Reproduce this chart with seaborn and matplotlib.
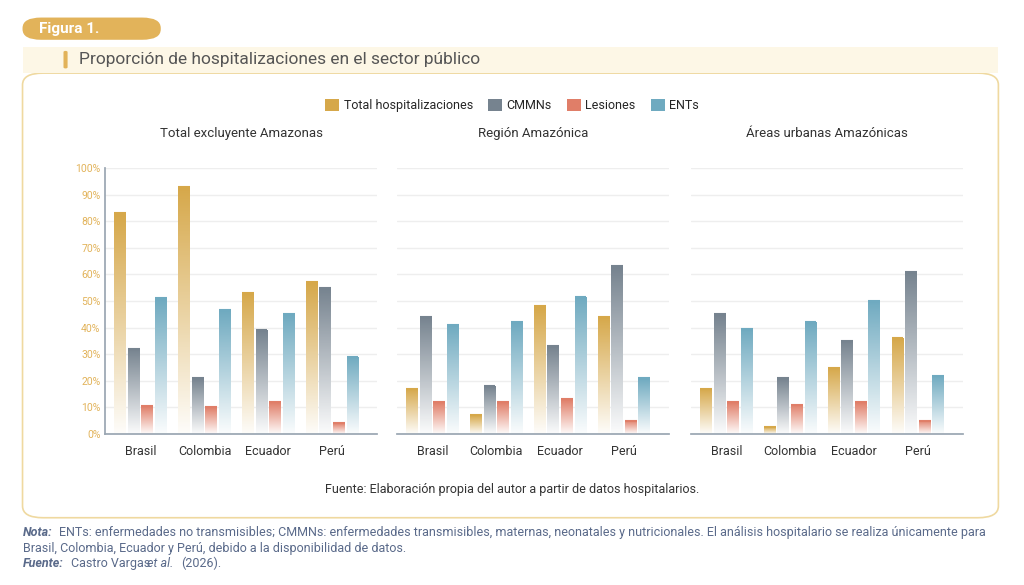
import numpy as np
import pandas as pd
import matplotlib
matplotlib.use("Agg")
import matplotlib.pyplot as plt
import seaborn as sns
from matplotlib.colors import LinearSegmentedColormap
from matplotlib.patches import FancyBboxPatch, Patch

paises = ["Brasil", "Colombia", "Ecuador", "Perú"]
series = ["Total hospitalizaciones", "CMMNs", "Lesiones", "ENTs"]
paneles = ["Total excluyente Amazonas", "Región Amazónica", "Áreas urbanas Amazónicas"]

total = [[83, 93, 53, 57], [17, 7, 48, 44], [17, 2.5, 25, 36]]
cmmn = [[32, 21, 39, 55], [44, 18, 33, 63], [45, 21, 35, 61]]
lesiones = [[10.5, 10, 12, 4], [12, 12, 13, 5], [12, 11, 12, 5]]
ents = [[51, 46.5, 45, 29], [41, 42, 51.5, 21], [39.5, 42, 50, 22]]

colores = ["#D6A84A", "#76838F", "#E07E68", "#6FAAC0"]

sns.set_theme(style="white")
plt.rcParams["font.family"] = ["Roboto", "DejaVu Sans"]

fig = plt.figure(figsize=(10.24, 5.85), dpi=100)

# marco y encabezados
fig.patches.append(FancyBboxPatch((0.022, 0.115), 0.953, 0.76, boxstyle="round,pad=0,rounding_size=0.02",
                                  transform=fig.transFigure, fc="white", ec="#EFD9A0", lw=1.2, zorder=0))
fig.patches.append(FancyBboxPatch((0.022, 0.875), 0.953, 0.045, boxstyle="square,pad=0",
                                  transform=fig.transFigure, fc="#FDF7E6", ec="none", zorder=0))
fig.patches.append(FancyBboxPatch((0.022, 0.932), 0.135, 0.038, boxstyle="round,pad=0,rounding_size=0.018",
                                  transform=fig.transFigure, fc="#E2B35A", ec="none", zorder=0))
fig.text(0.038, 0.951, "Figura 1.", color="white", fontsize=11, fontweight="bold", va="center")
fig.patches.append(FancyBboxPatch((0.062, 0.883), 0.004, 0.03, boxstyle="round,pad=0,rounding_size=0.002",
                                  transform=fig.transFigure, fc="#E2B35A", ec="none", zorder=0))
fig.text(0.077, 0.898, "Proporción de hospitalizaciones en el sector público", color="#555555",
         fontsize=12.5, va="center")

filas = []
for p in range(3):
    for i, pais in enumerate(paises):
        for s, vals in zip(series, [total, cmmn, lesiones, ents]):
            filas.append({"panel": paneles[p], "pais": pais, "serie": s, "valor": vals[p][i]})
df = pd.DataFrame(filas)

lefts = [0.103, 0.388, 0.675]
for p, nombre in enumerate(paneles):
    ax = fig.add_axes([lefts[p], 0.258, 0.265, 0.455])
    ax.set_zorder(5)
    ax.patch.set_alpha(0)
    sub = df[df.panel == nombre]
    sns.barplot(data=sub, x="pais", y="valor", hue="serie", hue_order=series, palette=colores,
                width=0.85, gap=0.12, legend=False, ax=ax)
    ax.set_ylim(0, 100)
    ax.set_xlim(-0.55, 3.7)
    for k, cont in enumerate(ax.containers):
        cmap = LinearSegmentedColormap.from_list("g", ["white", colores[k]])
        for bar in cont:
            x0, w, h = bar.get_x(), bar.get_width(), bar.get_height()
            bar.set_facecolor("none")
            bar.set_edgecolor("none")
            grad = np.linspace(1, 0.03, 100).reshape(-1, 1)
            im = ax.imshow(grad, cmap=cmap, vmin=0, vmax=1, aspect="auto",
                           extent=(x0, x0 + w, 0, h), zorder=2)
            im.set_clip_path(bar)
            ax.plot([x0, x0 + w], [h, h], color=colores[k], lw=1.5, zorder=3, solid_capstyle="butt")
    ax.set_ylim(0, 100)
    ax.set_xlim(-0.55, 3.7)
    ax.set_yticks(range(0, 101, 10))
    ax.yaxis.grid(True, color="#EEEEEE", lw=1)
    ax.set_axisbelow(True)
    ax.set_xlabel("")
    ax.set_ylabel("")
    ax.set_title(nombre, fontsize=9.5, color="#333333", pad=22)
    ax.tick_params(axis="x", labelsize=9, colors="#333333", pad=8, length=0)
    for sp in ["top", "right"]:
        ax.spines[sp].set_visible(False)
    ax.spines["bottom"].set_color("#9AA6B2")
    if p == 0:
        ax.set_yticklabels([f"{v}%" for v in range(0, 101, 10)])
        ax.tick_params(axis="y", labelsize=7.5, colors="#E2B35A", length=0)
        ax.spines["left"].set_color("#9AA6B2")
    else:
        ax.set_yticklabels([])
        ax.tick_params(axis="y", length=0)
        ax.spines["left"].set_visible(False)

# leyenda
handles = [Patch(fc=c, ec="none") for c in colores]
fig.legend(handles, series, loc="center", bbox_to_anchor=(0.5, 0.82), ncol=4, frameon=False,
           fontsize=9, handlelength=1.1, handleheight=1.1, columnspacing=1.2, handletextpad=0.4)

fig.text(0.5, 0.158, "Fuente: Elaboración propia del autor a partir de datos hospitalarios.",
         ha="center", fontsize=9, color="#333333")

nota_c = "#5A6A8A"
fig.text(0.022, 0.083, "Nota:", fontsize=9, color=nota_c, fontweight="bold", fontstyle="italic")
fig.text(0.058, 0.083, "ENTs: enfermedades no transmisibles; CMMNs: enfermedades transmisibles, maternas, neonatales y nutricionales. El análisis hospitalario se realiza únicamente para",
         fontsize=9, color=nota_c)
fig.text(0.022, 0.057, "Brasil, Colombia, Ecuador y Perú, debido a la disponibilidad de datos.", fontsize=9, color=nota_c)
fig.text(0.022, 0.031, "Fuente:", fontsize=9, color=nota_c, fontweight="bold", fontstyle="italic")
fig.text(0.069, 0.031, "Castro Vargas", fontsize=9, color=nota_c)
fig.text(0.144, 0.031, "et al.", fontsize=9, color=nota_c, fontstyle="italic")
fig.text(0.177, 0.031, "(2026).", fontsize=9, color=nota_c)

fig.savefig("out.png", dpi=100)
